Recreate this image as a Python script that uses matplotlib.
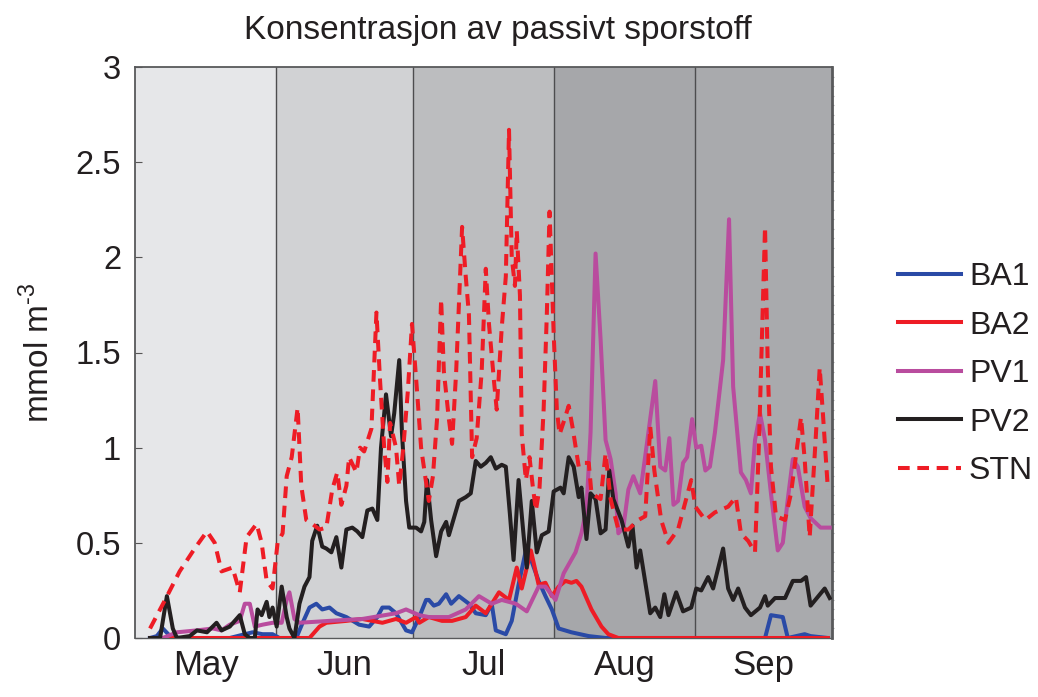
import matplotlib
matplotlib.use("Agg")
import matplotlib.pyplot as plt
import numpy as np

plt.rcParams['font.family'] = ['Liberation Sans', 'DejaVu Sans']
plt.rcParams['mathtext.fontset'] = 'custom'
plt.rcParams['mathtext.rm'] = 'Liberation Sans'

# ---- data (days since 1 May; values in mmol m^-3) ----
months = ["May", "Jun", "Jul", "Aug", "Sep"]
month_starts = [0, 31, 61, 92, 123, 153]
month_colors = ["#e6e7e9", "#d1d2d4", "#bcbdbf", "#a6a7aa", "#a9aaad"]

stn_day = [3.3, 6.6, 9.8, 13.1, 15.8, 17.5, 19.0, 21.4, 23.0, 24.5, 26.7, 27.8, 28.9, 30.2,
           31.3, 32.4, 33.3, 34.4, 35.7, 36.5, 37.6, 38.9, 40.5, 42.0, 43.3, 44.4, 45.3, 46.4,
           47.0, 48.6, 49.4, 50.3, 51.9, 53.0, 53.8, 54.7, 55.4, 56.0, 57.3, 58.0, 58.9, 59.9,
           60.8, 61.9, 62.8, 63.7, 64.5, 65.4, 66.3, 67.2, 67.8, 68.9, 69.6, 70.5, 71.8, 72.6,
           73.3, 74.0, 75.0, 76.1, 77.0, 77.7, 78.8, 79.4, 80.5, 81.4, 82.1, 82.7, 83.4, 83.8,
           84.5, 84.9, 85.8, 86.6, 87.3, 88.0, 88.8, 89.7, 90.4, 91.0, 91.9, 92.6, 93.2, 94.3,
           95.2, 96.1, 97.4, 98.5, 99.6, 100.2, 102.2, 103.3, 104.4, 106.1, 108.3, 110.5, 112.0,
           113.1, 114.0, 115.5, 117.1, 119.2, 122.1, 123.0, 125.2, 127.3, 130.2, 131.9, 133.0,
           134.6, 136.1, 137.0, 138.3, 138.9, 139.6, 140.7, 142.7, 144.0, 146.2, 147.0, 148.1,
           149.4, 150.3, 151.0, 152.1]
stn_val = [0.05, 0.20, 0.35, 0.47, 0.56, 0.50, 0.35, 0.37, 0.24, 0.53, 0.60, 0.50, 0.30, 0.26,
           0.50, 0.55, 0.85, 0.95, 1.21, 0.80, 0.62, 0.60, 0.57, 0.58, 0.78, 0.87, 0.70, 0.80,
           0.95, 0.87, 1.00, 0.98, 1.10, 1.71, 1.35, 1.00, 0.82, 1.13, 1.00, 0.80, 1.00, 1.30,
           1.65, 1.30, 1.00, 0.85, 0.72, 0.85, 1.15, 1.78, 1.40, 1.15, 1.02, 1.40, 2.16, 1.90,
           1.70, 0.95, 1.05, 1.40, 1.94, 1.65, 1.35, 1.20, 1.63, 1.90, 2.67, 2.00, 1.85, 2.14,
           1.80, 1.07, 0.83, 0.95, 0.80, 0.67, 0.79, 1.20, 1.70, 2.24, 1.60, 1.20, 1.07, 1.15,
           1.22, 1.10, 0.90, 0.92, 0.92, 0.76, 0.73, 0.97, 0.73, 0.57, 0.57, 0.62, 0.64,
           1.11, 0.88, 0.62, 0.50, 0.57, 0.83, 0.69, 0.62, 0.66, 0.69, 0.74, 0.55,
           0.51, 0.45, 1.05, 2.16, 1.42, 0.90, 0.64, 0.62, 0.76, 1.16, 0.94, 0.53,
           1.04, 1.42, 1.18, 0.78]

pv2_day = [3.3, 5.5, 7.0, 8.3, 9.2, 12.0, 13.6, 15.8, 17.9, 19.0, 20.8, 23.0, 24.1, 25.2, 26.3,
           26.9, 27.8, 28.9, 29.5, 30.2, 31.1, 32.2, 33.3, 33.9, 35.0, 36.1, 37.2, 38.3, 38.9,
           40.0, 41.1, 42.0, 43.1, 44.2, 45.3, 46.4, 47.7, 48.8, 49.9, 51.0, 52.1, 53.2, 54.0,
           55.1, 56.2, 56.9, 58.0, 58.6, 59.5, 60.2, 61.7, 62.8, 63.5, 64.1, 65.0, 66.1, 67.2,
           68.3, 68.9, 70.0, 71.1, 72.6, 73.7, 74.8, 75.9, 77.0, 78.1, 79.2, 80.5, 81.4, 82.3,
           83.1, 84.2, 85.3, 86.0, 87.1, 88.2, 89.3, 90.8, 91.9, 93.4, 94.1, 95.2, 96.3, 97.4,
           98.0, 99.1, 100.0, 101.1, 102.2, 103.3, 104.1, 105.0, 106.8, 108.3, 109.2, 110.1,
           110.9, 113.1, 114.2, 115.3, 116.2, 117.1, 118.8, 120.3, 122.1, 123.2, 124.3, 125.8,
           126.9, 129.1, 130.2, 131.3, 132.4, 133.9, 135.2, 137.2, 138.3, 138.9, 140.5, 142.7,
           144.4, 146.2, 147.3, 148.3, 151.4, 152.5]
pv2_val = [0.00, 0.00, 0.22, 0.05, 0.00, 0.01, 0.04, 0.03, 0.08, 0.04, 0.06, 0.12, 0.02, 0.00, 0.00,
           0.15, 0.12, 0.19, 0.11, 0.16, 0.06, 0.27, 0.11, 0.05, 0.00, 0.18, 0.27, 0.32, 0.51,
           0.59, 0.48, 0.47, 0.45, 0.53, 0.37, 0.57, 0.58, 0.56, 0.53, 0.67, 0.68, 0.62, 1.00,
           1.28, 1.06, 1.18, 1.46, 1.08, 0.72, 0.58, 0.58, 0.56, 0.61, 0.83, 0.62, 0.43, 0.56,
           0.61, 0.54, 0.63, 0.72, 0.74, 0.76, 0.93, 0.90, 0.92, 0.95, 0.89, 0.91, 0.90, 0.65,
           0.41, 0.83, 0.54, 0.37, 0.72, 0.45, 0.54, 0.56, 0.77, 0.79, 0.76, 0.95, 0.90, 0.74,
           0.79, 0.52, 0.76, 0.73, 0.55, 0.57, 0.88, 0.73, 0.62, 0.48, 0.59, 0.37,
           0.46, 0.13, 0.16, 0.11, 0.23, 0.12, 0.24, 0.14, 0.16, 0.26, 0.25, 0.32,
           0.26, 0.47, 0.26, 0.20, 0.26, 0.16, 0.12, 0.16, 0.22, 0.17, 0.21, 0.21,
           0.30, 0.30, 0.32, 0.17, 0.26, 0.21]

pv1_day = [3.3, 6.1, 9.2, 13.6, 17.1, 19.0, 20.8, 23.0, 24.1, 25.2, 26.3, 28.0, 30.2, 32.2, 33.3,
           33.9, 35.0, 36.1, 42.7, 49.9, 57.3, 59.5, 62.4, 64.5, 68.9, 72.6, 75.5, 78.3, 80.5,
           83.6, 86.0, 88.6, 90.1, 92.3, 94.1, 96.7, 98.0, 99.1, 100.0, 101.1, 102.2, 103.3,
           104.4, 105.5, 106.1, 107.2, 108.3, 109.4, 110.9, 112.7, 114.2, 115.3, 116.4, 117.3,
           118.2, 119.2, 120.3, 121.2, 122.3, 123.2, 124.3, 125.2, 126.2, 127.3, 129.1, 130.4,
           131.3, 133.0, 134.1, 135.2, 136.1, 137.2, 138.3, 139.6, 141.1, 142.2, 143.3, 144.4,
           145.5, 147.0, 148.3, 150.5, 152.5]
pv1_val = [0.00, 0.00, 0.03, 0.04, 0.05, 0.04, 0.07, 0.09, 0.18, 0.18, 0.06, 0.07, 0.08, 0.08, 0.20,
           0.24, 0.10, 0.08, 0.09, 0.10, 0.13, 0.15, 0.12, 0.11, 0.11, 0.15, 0.22, 0.18, 0.20,
           0.18, 0.14, 0.27, 0.27, 0.20, 0.34, 0.45, 0.55, 0.68, 1.08, 2.02, 1.57, 1.04,
           0.94, 0.76, 0.55, 0.58, 0.78, 0.85, 0.76, 1.08, 1.35, 0.90, 0.88, 1.05,
           0.70, 0.72, 0.92, 0.95, 1.15, 1.00, 1.01, 0.88, 0.90, 1.08, 1.46, 2.20,
           1.32, 0.87, 0.83, 0.76, 1.04, 1.18, 1.04, 0.76, 0.46, 0.50, 0.73, 0.94,
           0.90, 0.69, 0.63, 0.58, 0.58]

ba1_day = [3.3, 4.8, 6.1, 7.7, 9.8, 14.2, 20.8, 25.8, 28.0, 30.2, 31.7, 35.4, 36.8, 38.3, 39.8,
           41.1, 42.7, 44.2, 46.4, 49.2, 51.4, 53.2, 54.3, 55.8, 57.3, 59.5, 60.8, 62.4, 63.9,
           64.5, 65.6, 66.7, 68.3, 69.4, 71.1, 73.3, 74.8, 77.0, 78.3, 79.2, 81.4, 82.7, 84.2,
           85.8, 87.1, 88.6, 90.1, 91.5, 93.0, 95.8, 99.6, 103.3, 123.6, 138.3, 139.6, 142.2,
           143.3, 147.0, 148.3, 152.1]
ba1_val = [0.00, 0.01, 0.05, 0.01, 0.00, 0.00, 0.00, 0.03, 0.02, 0.02, 0.00, 0.00, 0.08, 0.16, 0.18,
           0.15, 0.16, 0.13, 0.11, 0.07, 0.06, 0.11, 0.16, 0.16, 0.13, 0.04, 0.03, 0.11, 0.20,
           0.20, 0.17, 0.18, 0.23, 0.18, 0.22, 0.18, 0.13, 0.12, 0.18, 0.04, 0.02, 0.09, 0.28,
           0.46, 0.40, 0.30, 0.22, 0.15, 0.05, 0.03, 0.01, 0.00, 0.00, 0.00, 0.12, 0.11,
           0.00, 0.02, 0.01, 0.00]

ba2_day = [3.3, 14.2, 25.2, 35.4, 38.3, 40.5, 42.0, 46.4, 49.9, 54.3, 57.3, 59.5, 61.7, 62.4, 64.5,
           67.4, 69.6, 72.6, 74.8, 77.0, 79.9, 82.1, 83.8, 84.9, 86.9, 88.6, 90.1, 91.5, 93.0,
           94.5, 95.8, 96.9, 98.0, 100.2, 102.4, 103.9, 106.1, 123.6, 152.1]
ba2_val = [0.00, 0.00, 0.00, 0.00, 0.00, 0.06, 0.08, 0.09, 0.10, 0.08, 0.10, 0.08, 0.11, 0.08, 0.11,
           0.09, 0.09, 0.11, 0.17, 0.13, 0.24, 0.20, 0.37, 0.26, 0.46, 0.28, 0.29, 0.22, 0.27,
           0.30, 0.29, 0.30, 0.27, 0.15, 0.06, 0.02, 0.00, 0.00, 0.00]

yticks = [0, 0.5, 1, 1.5, 2, 2.5, 3]
ytick_labels = ["0", "0.5", "1", "1.5", "2", "2.5", "3"]

# ---- figure ----
W, H = 1038, 697
fig = plt.figure(figsize=(W / 100, H / 100), dpi=100)
ax = fig.add_axes([135 / W, (H - 638) / H, (832 - 135) / W, (638 - 67) / H])

for i in range(len(months)):
    ax.axvspan(month_starts[i], month_starts[i + 1], color=month_colors[i], lw=0, zorder=0)
for b in month_starts[1:-1]:
    ax.axvline(b, color="#4d4d4f", lw=1.0, zorder=1)

lw = 2.9
dash = (0, (2.9, 1.9))
ax.plot(ba1_day, ba1_val, color="#2a4aa6", lw=lw, label="BA1", zorder=3)
ax.plot(ba2_day, ba2_val, color="#ee1c25", lw=lw, label="BA2", zorder=3)
ax.plot(pv1_day, pv1_val, color="#b94c9e", lw=lw, label="PV1", zorder=4)
ax.plot(pv2_day, pv2_val, color="#231f20", lw=lw, label="PV2", zorder=5)
ax.plot(stn_day, stn_val, color="#ee1c25", lw=lw, ls=dash, label="STN", zorder=6)

ax.set_xlim(month_starts[0], month_starts[-1])
ax.set_ylim(0, 3)
mids = [(month_starts[i] + month_starts[i + 1]) / 2 for i in range(len(months))]
ax.set_xticks(mids)
ax.set_xticklabels(months, fontsize=25, color="#231f20")
ax.tick_params(axis="x", length=0, pad=8)
ax.set_yticks(yticks)
ax.set_yticklabels(ytick_labels, fontsize=23.5, color="#231f20")
ax.tick_params(axis="y", direction="in", length=5, width=0.8, color="#555555", pad=10)
ax.yaxis.set_minor_locator(matplotlib.ticker.MultipleLocator(0.05))
ax.tick_params(axis="y", which="minor", left=False, right=True, direction="out",
               length=1.2, width=0.8, color="#aaaaaa")
for s in ["left", "top", "right"]:
    ax.spines[s].set_color("#58595b")
    ax.spines[s].set_linewidth(1.3)
ax.spines["bottom"].set_color("#58595b")
ax.spines["bottom"].set_linewidth(1.0)
ax.spines["right"].set_linewidth(2.0)

ax.set_ylabel(r"mmol m$^{\text{-3}}$", fontsize=24, labelpad=14, color="#231f20")
ax.set_title("Konsentrasjon av passivt sporstoff", fontsize=24, pad=20, x=0.52, color="#231f20")

fig.legend(loc="upper left", bbox_to_anchor=(898 / W, 1 - 262 / H), frameon=False,
           fontsize=23, handlelength=1.97, handletextpad=0.25, labelspacing=0.58,
           borderaxespad=0, borderpad=0, labelcolor="#231f20")

fig.savefig("out.png", dpi=100)
